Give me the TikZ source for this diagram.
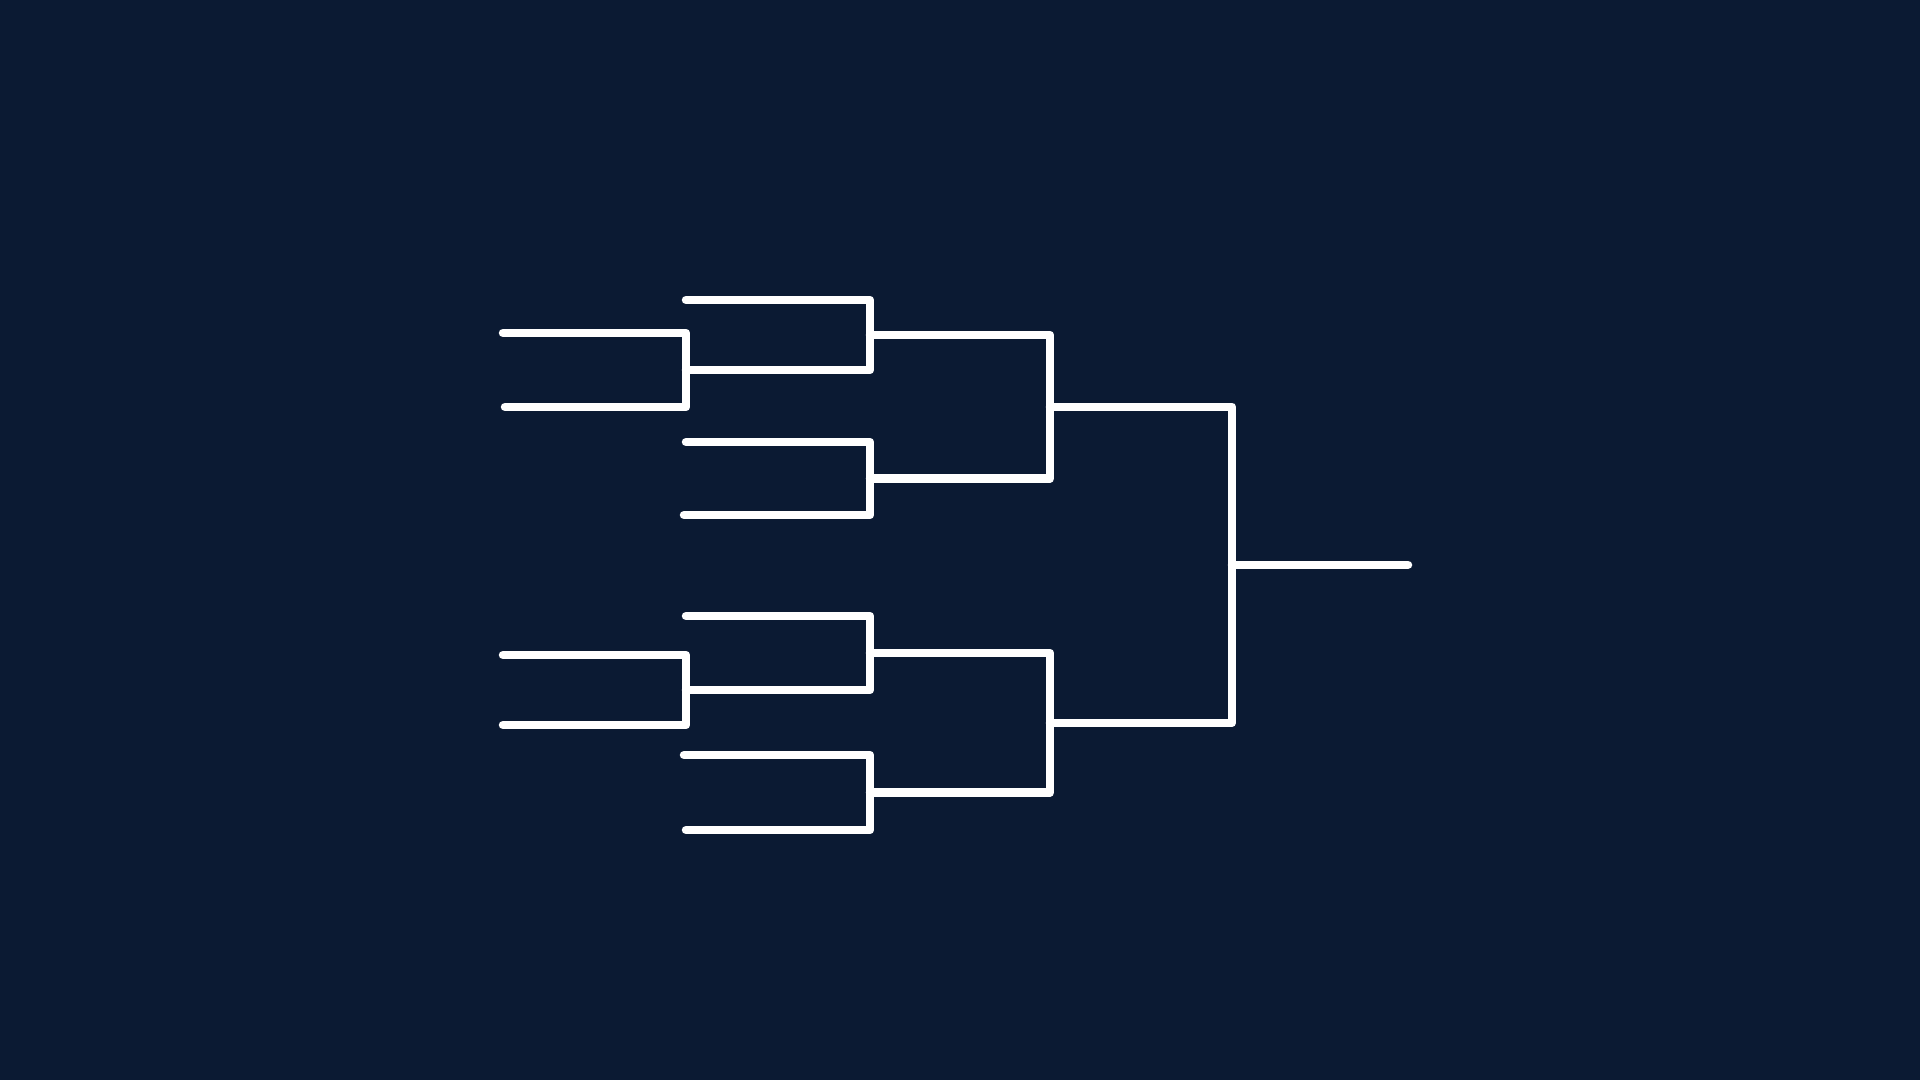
\documentclass[tikz,border=0pt]{standalone}
\usetikzlibrary{calc}
\definecolor{bgnavy}{RGB}{11,26,51}
\begin{document}
\begin{tikzpicture}[x=1pt,y=-1pt,
  br/.style={draw=white,line width=8.5pt,line cap=round,line join=round}]
\fill[bgnavy] (0,0) rectangle (1920,1080);
\useasboundingbox (0,0) rectangle (1920,1080);
% vertical positions of rounds
\coordinate (v1) at (686,0);
\coordinate (v2) at (870,0);
\coordinate (v3) at (1050,0);
\coordinate (v4) at (1232,0);
\coordinate (win) at (1408,0);
% leaves
\coordinate (a1) at (503,333);
\coordinate (a2) at (505,407);
\coordinate (b1) at (503,655);
\coordinate (b2) at (503,725);
\coordinate (c1) at (686,300);
\coordinate (d1) at (686,442);
\coordinate (d2) at (684,515);
\coordinate (e1) at (686,616);
\coordinate (f1) at (684,755);
\coordinate (f2) at (686,830);
% round 1
\draw[br] (a1) -- (a1 -| v1) -- (a2 -| v1) -- (a2);
\coordinate (A) at ($(a1 -| v1)!0.5!(a2 -| v1)$);
\draw[br] (b1) -- (b1 -| v1) -- (b2 -| v1) -- (b2);
\coordinate (B) at ($(b1 -| v1)!0.5!(b2 -| v1)$);
% round 2
\draw[br] (c1) -- (c1 -| v2) -- (A -| v2) -- (A);
\coordinate (C) at ($(c1 -| v2)!0.5!(A -| v2)$);
\draw[br] (d1) -- (d1 -| v2) -- (d2 -| v2) -- (d2);
\coordinate (D) at ($(d1 -| v2)!0.5!(d2 -| v2)$);
\draw[br] (e1) -- (e1 -| v2) -- (B -| v2) -- (B);
\coordinate (E) at ($(e1 -| v2)!0.5!(B -| v2)$);
\draw[br] (f1) -- (f1 -| v2) -- (f2 -| v2) -- (f2);
\coordinate (F) at ($(f1 -| v2)!0.5!(f2 -| v2)$);
% round 3
\draw[br] (C) -- (C -| v3) -- (D -| v3) -- (D);
\coordinate (G) at ($(C -| v3)!0.5!(D -| v3)$);
\draw[br] (E) -- (E -| v3) -- (F -| v3) -- (F);
\coordinate (H) at ($(E -| v3)!0.5!(F -| v3)$);
% final
\draw[br] (G) -- (G -| v4) -- (H -| v4) -- (H);
\coordinate (I) at ($(G -| v4)!0.5!(H -| v4)$);
\draw[br] (I) -- (I -| win);
\end{tikzpicture}
\end{document}
